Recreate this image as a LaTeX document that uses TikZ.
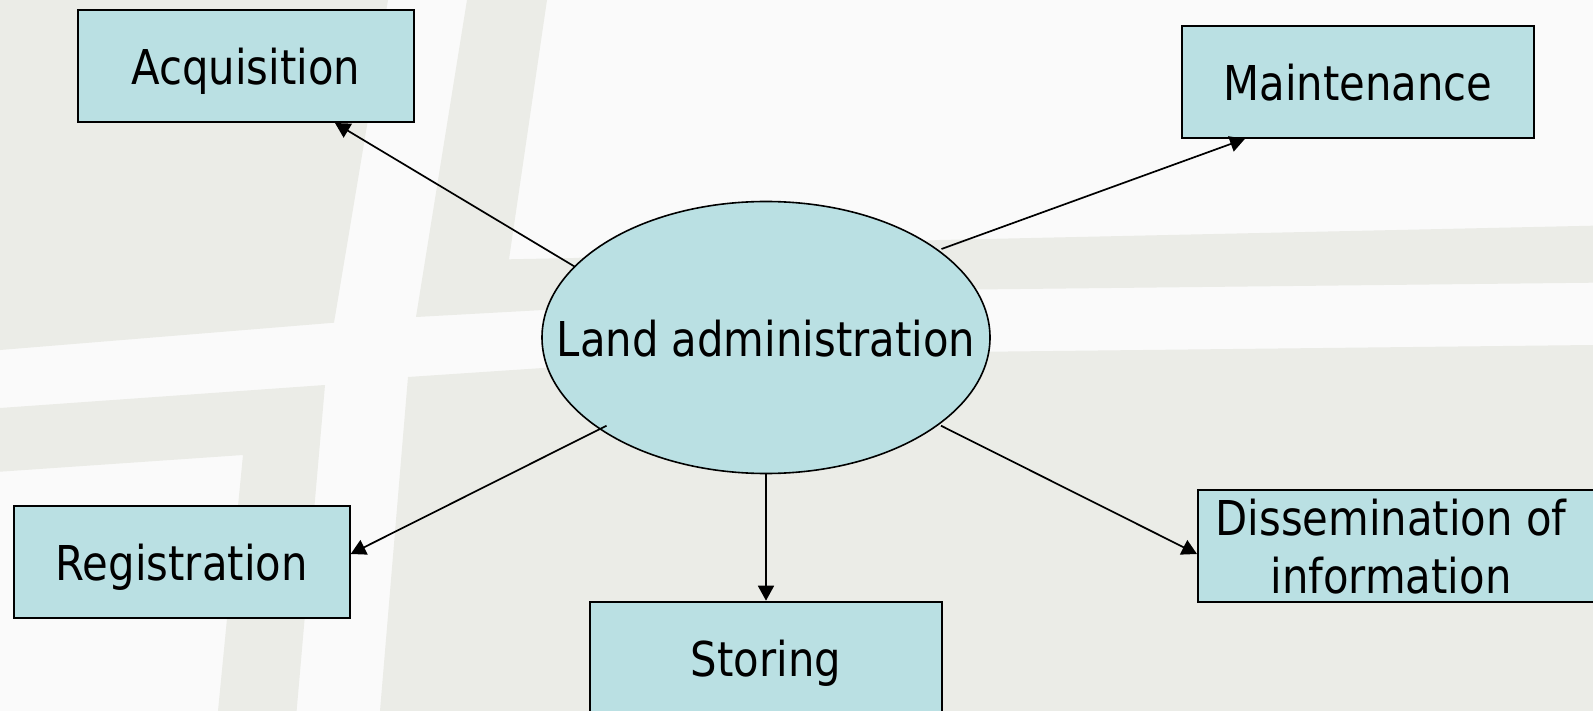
\documentclass[tikz,border=0pt]{standalone}
\usepackage{fontspec}
\setmainfont[FakeStretch=0.87]{DejaVu Sans}
\usetikzlibrary{shapes.geometric,arrows.meta}
\definecolor{bglight}{HTML}{FAFAFA}
\definecolor{bggray}{HTML}{EBECE7}
\definecolor{boxfill}{HTML}{BAE0E3}
\tikzset{
  road/.style={fill=bggray,draw=none},
  labelfont/.style={font=\fontsize{48}{58}\selectfont,text height=37.4pt,text depth=0pt,inner sep=0pt},
  blockbox/.style={labelfont,draw=black,line width=2pt,fill=boxfill,rectangle,minimum width=336pt,minimum height=112pt},
  hubnode/.style={labelfont,draw=black,line width=1.6pt,fill=boxfill,ellipse,minimum width=448pt,minimum height=272pt},
  link/.style={draw=black,line width=1.7pt,-{Triangle[length=15pt,width=16pt]}},
}
\begin{document}
\begin{tikzpicture}[x=1pt,y=-1pt]
\useasboundingbox (0,0) rectangle (1593,711);
\clip (0,0) rectangle (1593,711);
\fill[bglight] (0,0) rectangle (1593,711);
\path[road] (0,0) -- (388,0) -- (334,322.7) -- (0,350) -- cycle;
\path[road] (467,0) -- (547,0) -- (509,259.3) -- (574,258) -- (940,240) -- (1593,225.7) -- (1593,282.7) -- (975,289.5) -- (543,310) -- (416,317) -- cycle;
\path[road] (408,377) -- (543,368) -- (990,351.7) -- (1593,345) -- (1593,711) -- (380,711) -- cycle;
\path[road] (0,408) -- (325,385) -- (296.6,711) -- (218,711) -- (243,455) -- (0,471.7) -- cycle;

\node[blockbox] (acq) at (245.7,66) {Acquisition};
\node[blockbox,minimum width=352pt] (maint) at (1358,81.8) {Maintenance};
\node[blockbox] (reg) at (181.7,561.8) {Registration};
\node[blockbox,minimum width=352pt] (stor) at (766,657.7) {Storing};
\node[blockbox,minimum width=402pt,align=center,text height=95pt] (diss) at (1399,545.8) {\hspace*{-16pt}Dissemination of\\\hspace*{-16pt}information};
\node[hubnode] (land) at (766,337.5) {\makebox[0pt]{Land administration}};

\draw[link] ([shift={(-191.5,-71)}]land.center) -- ([xshift=89.3pt]acq.south);
\draw[link] ([shift={(175.5,-88.5)}]land.center) -- ([xshift=-113pt]maint.south);
\draw[link] ([shift={(-159.5,88.2)}]land.center) -- ([yshift=7.8pt]reg.east);
\draw[link] ([shift={(175,88.2)}]land.center) -- ([yshift=-8.2pt]diss.west);
\draw[link] (land.south) -- (land.south |- stor.north);
\end{tikzpicture}
\end{document}
